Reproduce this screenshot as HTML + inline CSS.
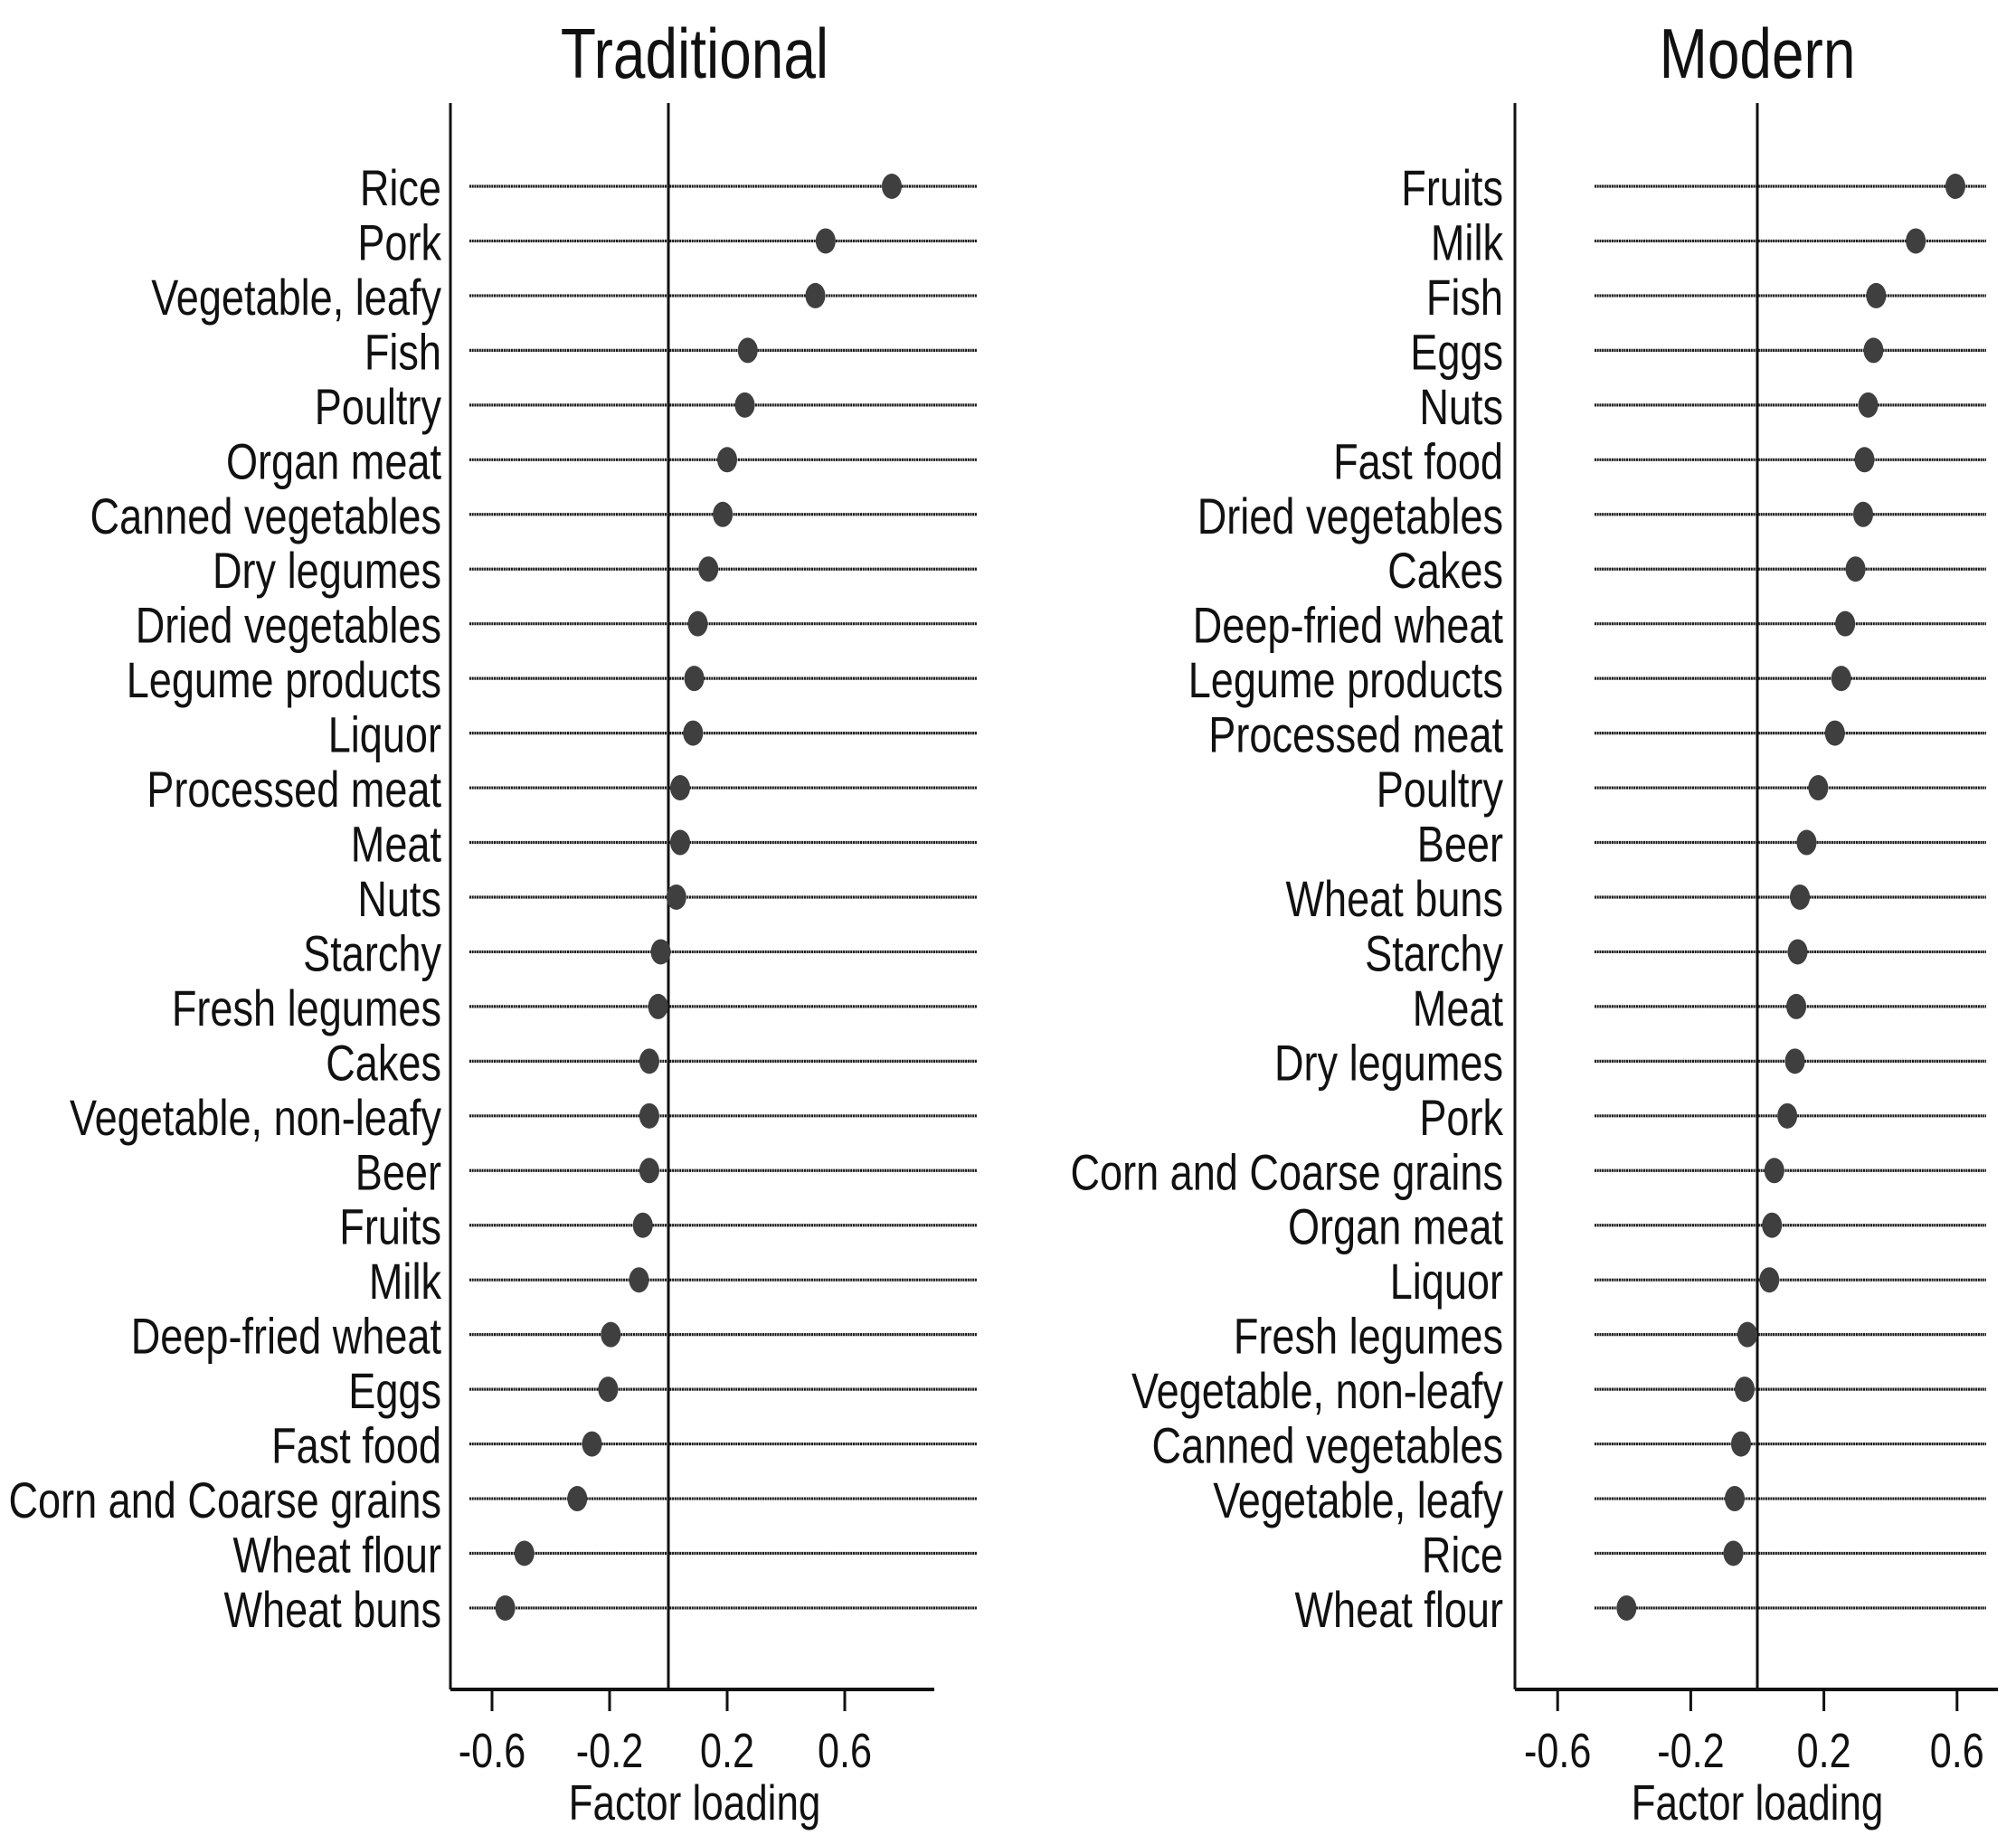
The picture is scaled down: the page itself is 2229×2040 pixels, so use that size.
<!DOCTYPE html>
<html><head><meta charset="utf-8"><style>
html,body{margin:0;padding:0;background:#fff;}
svg{display:block;}
text{font-family:"Liberation Sans",sans-serif;fill:#111;}
</style></head><body>
<svg id="chart" width="2229" height="2040" viewBox="0 0 2229 2040" xmlns="http://www.w3.org/2000/svg"></svg>
<script>
const tradCategories=["Rice","Pork","Vegetable, leafy","Fish","Poultry","Organ meat","Canned vegetables","Dry legumes","Dried vegetables","Legume products","Liquor","Processed meat","Meat","Nuts","Starchy","Fresh legumes","Cakes","Vegetable, non-leafy","Beer","Fruits","Milk","Deep-fried wheat","Eggs","Fast food","Corn and Coarse grains","Wheat flour","Wheat buns"];
const tradValues=[0.76,0.535,0.50,0.27,0.26,0.20,0.185,0.136,0.10,0.088,0.084,0.04,0.04,0.027,-0.026,-0.035,-0.065,-0.065,-0.065,-0.087,-0.10,-0.196,-0.205,-0.26,-0.31,-0.49,-0.555];
const modCategories=["Fruits","Milk","Fish","Eggs","Nuts","Fast food","Dried vegetables","Cakes","Deep-fried wheat","Legume products","Processed meat","Poultry","Beer","Wheat buns","Starchy","Meat","Dry legumes","Pork","Corn and Coarse grains","Organ meat","Liquor","Fresh legumes","Vegetable, non-leafy","Canned vegetables","Vegetable, leafy","Rice","Wheat flour"];
const modValues=[0.595,0.476,0.357,0.349,0.333,0.322,0.318,0.295,0.264,0.252,0.233,0.183,0.148,0.128,0.121,0.117,0.113,0.090,0.051,0.044,0.036,-0.03,-0.038,-0.049,-0.068,-0.072,-0.393];
const tickValues=[-0.6,-0.2,0.2,0.6];
const tickLabels=["-0.6","-0.2","0.2","0.6"];

const svg=document.getElementById('chart');
const NS='http://www.w3.org/2000/svg';
function mk(tag,attrs,parent){const e=document.createElementNS(NS,tag);for(const k in attrs)e.setAttribute(k,attrs[k]);(parent||svg).appendChild(e);return e;}
function txt(parent,x,y,size,anchor,sx,str){
  const e=mk('text',{x:0,y:0,'font-size':size,'text-anchor':anchor,transform:`translate(${x},${y}) scale(${sx},1)`},parent);
  e.textContent=str;return e;
}

function panel(p){
  const g=mk('g',{});
  
  
  const x=v=>p.zero+v*p.unit;
  const y=i=>206+i*60.46;
  const top=114,bottom=1868;
  const t=txt(g,p.titleX,86,78,'middle',0.82,p.title);
  
  
  p.cats.forEach((c,i)=>{
    const ln=mk('line',{x1:p.lineL,x2:p.lineR,y1:y(i),y2:y(i),stroke:'#1a1a1a','stroke-width':3.2,'stroke-dasharray':'2 0.7'},g);
    
    
    const lb=txt(g,p.labelX,y(i)+21,56,'end',0.805,c);
    
    
  });
  const zl=mk('line',{x1:x(0),x2:x(0),y1:top,y2:bottom,stroke:'#111','stroke-width':3},g);
  
  
  p.vals.forEach((v,i)=>{
    const d=mk('ellipse',{cx:x(v),cy:y(i),rx:11,ry:14,fill:'#3f3f3f'},g);
    
    
  });
  const ya=mk('line',{x1:p.axisL,x2:p.axisL,y1:top,y2:bottom,stroke:'#111','stroke-width':3},g);
  
  
  const xa=mk('line',{x1:p.axisL,x2:p.axisR,y1:bottom,y2:bottom,stroke:'#111','stroke-width':4},g);
  
  
  tickValues.forEach((v,i)=>{
    const tk=mk('line',{x1:x(v),x2:x(v),y1:bottom,y2:bottom+24,stroke:'#111','stroke-width':3},g);
    
    
    const tl=txt(g,x(v),1954,54,'middle',0.8,tickLabels[i]);
    
    
  });
  const at=txt(g,p.titleX,2012,55,'middle',0.8,'Factor loading');
  
  
}
panel({key:'traditional',title:'Traditional',cats:tradCategories,vals:tradValues,zero:739,unit:325,axisL:498,axisR:1033,lineL:519,lineR:1080,labelX:488,titleX:768});
panel({key:'modern',title:'Modern',cats:modCategories,vals:modValues,zero:1943,unit:368,axisL:1675,axisR:2209,lineL:1763,lineR:2196,labelX:1662,titleX:1943});
</script>
</body></html>
